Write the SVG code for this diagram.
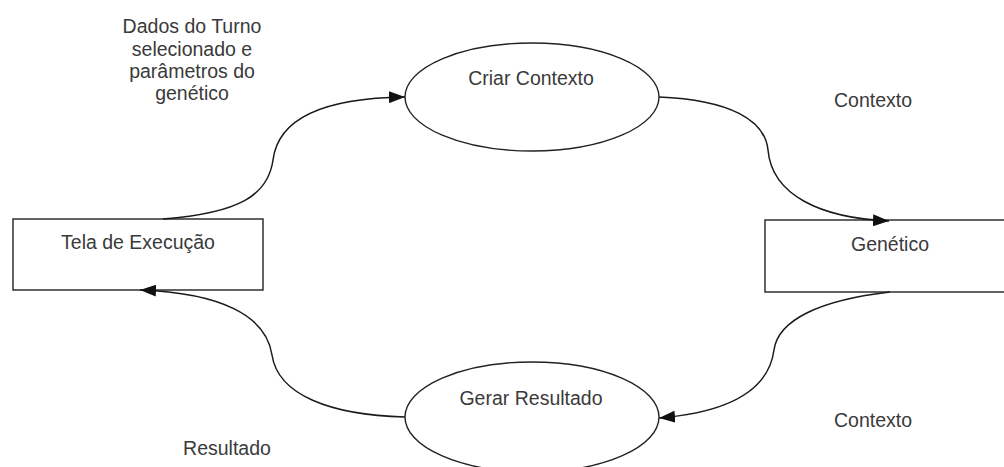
<svg xmlns="http://www.w3.org/2000/svg" width="1004" height="467" viewBox="0 0 1004 467">
  <style>
    .box { fill: #ffffff; stroke: #222222; stroke-width: 1.4; }
    .proc { fill: #ffffff; stroke: #222222; stroke-width: 1.4; }
    .flow { fill: none; stroke: #1a1a1a; stroke-width: 1.5; marker-end: url(#arrow); }
    .lbl { font-family: "Liberation Sans", Arial, sans-serif; font-size: 19.5px; fill: #3a3a3a; text-anchor: middle; }
  </style>
  <defs>
    <marker id="arrow" markerUnits="userSpaceOnUse" markerWidth="16" markerHeight="12" refX="16" refY="6" orient="auto">
      <path d="M0,0 L16,6 L0,12 z" fill="#111111"/>
    </marker>
  </defs>
  <rect width="1004" height="467" fill="#ffffff"/>

  <!-- external entity: execution screen -->
  <g id="tela-execucao">
    <rect class="box" x="13" y="219" width="250" height="71"/>
    <text class="lbl" x="138" y="249">Tela de Execução</text>
  </g>

  <!-- external entity: genetic algorithm (box runs off the right edge) -->
  <g id="genetico">
    <rect class="box" x="765" y="220" width="260" height="72"/>
    <text class="lbl" x="890" y="251">Genético</text>
  </g>

  <!-- process: create context -->
  <g id="criar-contexto">
    <ellipse class="proc" cx="532" cy="97" rx="127" ry="54"/>
    <text class="lbl" x="531" y="85">Criar Contexto</text>
  </g>

  <!-- process: generate result -->
  <g id="gerar-resultado">
    <ellipse class="proc" cx="532" cy="417" rx="127" ry="55"/>
    <text class="lbl" x="531" y="405">Gerar Resultado</text>
  </g>

  <!-- data flows -->
  <g id="connectors">
    <path class="flow" d="M163,219 C240,213 268,195 273,160 C278,120 320,98 405,97"/>
    <path class="flow" d="M659,97 C730,100 765,120 768,150 C772,195 820,218 889,221"/>
    <path class="flow" d="M890,292 C820,300 778,320 774,350 C768,395 720,413 659,418"/>
    <path class="flow" d="M405,417 C330,415 278,395 272,355 C266,315 220,293 140,290"/>
  </g>

  <!-- flow labels -->
  <g id="flow-labels">
    <text class="lbl" x="192" y="33">Dados do Turno</text>
    <text class="lbl" x="192" y="55.5">selecionado e</text>
    <text class="lbl" x="192" y="78">parâmetros do</text>
    <text class="lbl" x="192" y="100">genético</text>
    <text class="lbl" x="873" y="107">Contexto</text>
    <text class="lbl" x="873" y="427">Contexto</text>
    <text class="lbl" x="227" y="455">Resultado</text>
  </g>
</svg>
